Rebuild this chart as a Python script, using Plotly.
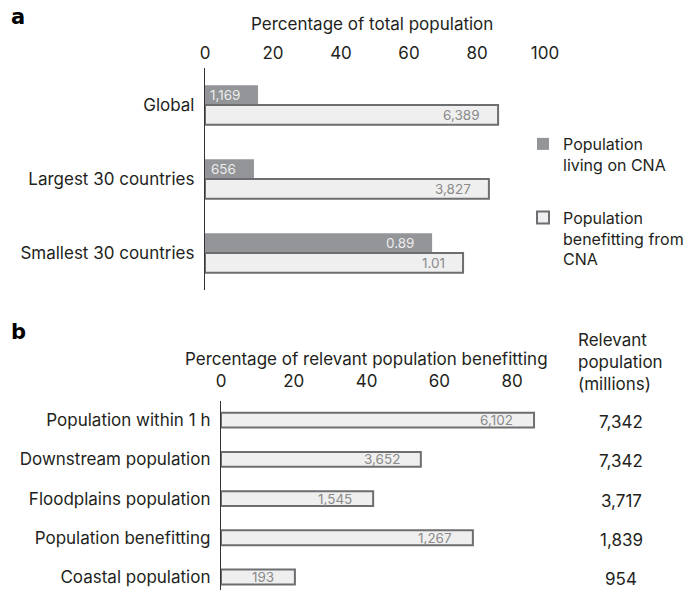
import plotly.graph_objects as go

# ---------------- data ----------------
cats_a = ["Global", "Largest 30 countries", "Smallest 30 countries"]
living_pct = [15.6, 14.4, 66.8]
benefit_pct = [86.2, 83.5, 75.9]
living_labels = ["1,169", "656", "0.89"]
benefit_labels = ["6,389", "3,827", "1.01"]

cats_b = ["Population within 1 h", "Downstream population", "Floodplains population",
          "Population benefitting", "Coastal population"]
b_pct = [86.0, 54.9, 41.8, 69.2, 20.3]
b_labels = ["6,102", "3,652", "1,545", "1,267", "193"]
relevant_pop = ["7,342", "7,342", "3,717", "1,839", "954"]

ticks_a = [0, 20, 40, 60, 80, 100]
ticks_b = [0, 20, 40, 60, 80]

# ---------------- style ----------------
W, H = 695, 590
FONT = "Inter"
FS = 17
TXT = "#231f20"
DARK = "#939598"
LIGHT = "#efefef"
EDGE = "#6d6e71"

def px(xp):
    return xp / W

def py(yp):
    return 1 - yp / H

fig = go.Figure()

fig.add_trace(go.Bar(
    y=cats_a, x=living_pct, orientation="h", name="Population<br>living on CNA",
    marker=dict(color=DARK, line=dict(width=0)), xaxis="x", yaxis="y",
    legendgroup="g1", hoverinfo="skip"))
fig.add_trace(go.Bar(
    y=cats_a, x=benefit_pct, orientation="h", name="Population<br>benefitting from<br>CNA",
    marker=dict(color=LIGHT, line=dict(width=2, color=EDGE)), xaxis="x", yaxis="y",
    legendgroup="g2", hoverinfo="skip"))
fig.add_trace(go.Bar(
    y=cats_b, x=b_pct, orientation="h", width=0.38, showlegend=False,
    marker=dict(color=LIGHT, line=dict(width=2, color=EDGE)), xaxis="x2", yaxis="y2",
    legendgroup="g3", hoverinfo="skip"))

ann = []
# value labels inside bars
for c, v, t in zip(cats_a, living_pct, living_labels):
    ann.append(dict(x=v, y=c, xref="x", yref="y", text=t, showarrow=False,
                    xanchor="right", xshift=-16, yshift=9.8,
                    font=dict(family=FONT, size=13.5, color="#ececec")))
for c, v, t in zip(cats_a, benefit_pct, benefit_labels):
    ann.append(dict(x=v, y=c, xref="x", yref="y", text=t, showarrow=False,
                    xanchor="right", xshift=-16, yshift=-9.8,
                    font=dict(family=FONT, size=13.5, color="#8a8a8a")))
for c, v, t in zip(cats_b, b_pct, b_labels):
    ann.append(dict(x=v, y=c, xref="x2", yref="y2", text=t, showarrow=False,
                    xanchor="right", xshift=-19,
                    font=dict(family=FONT, size=13.5, color="#8a8a8a")))
# relevant population column
for c, t in zip(cats_b, relevant_pop):
    ann.append(dict(x=px(621), y=c, xref="paper", yref="y2", text=t, showarrow=False,
                    xanchor="center", yshift=-2, font=dict(family=FONT, size=FS, color=TXT)))
ann.append(dict(x=px(576), y=py(362), xref="paper", yref="paper",
                text="Relevant<br>population<br>(millions)", showarrow=False,
                xanchor="left", yanchor="middle", align="left",
                font=dict(family=FONT, size=FS, color=TXT)))
# axis titles
ann.append(dict(x=px(372), y=py(24), xref="paper", yref="paper",
                text="Percentage of total population", showarrow=False,
                xanchor="center", yanchor="middle",
                font=dict(family=FONT, size=FS, color=TXT)))
ann.append(dict(x=px(366), y=py(359), xref="paper", yref="paper",
                text="Percentage of relevant population benefitting", showarrow=False,
                xanchor="center", yanchor="middle",
                font=dict(family=FONT, size=FS, color=TXT)))
# panel letters
ann.append(dict(x=px(9), y=py(17), xref="paper", yref="paper", text="<b>a</b>",
                showarrow=False, xanchor="left", yanchor="middle",
                font=dict(family="DejaVu Sans", size=21, color="#000")))
ann.append(dict(x=px(9), y=py(332), xref="paper", yref="paper", text="<b>b</b>",
                showarrow=False, xanchor="left", yanchor="middle",
                font=dict(family="DejaVu Sans", size=21, color="#000")))

axis_common = dict(showgrid=False, zeroline=False, ticks="", side="top", automargin=False,
                   tickfont=dict(family=FONT, size=FS, color=TXT), fixedrange=True)
yaxis_common = dict(type="category", showline=True, linecolor="#333", linewidth=1.3,
                    ticks="", showgrid=False, zeroline=False, automargin=False,
                    tickfont=dict(family=FONT, size=FS, color=TXT), ticklabelstandoff=6,
                    fixedrange=True)

fig.update_layout(
    width=W, height=H, margin=dict(l=0, r=0, t=0, b=0, autoexpand=False),
    paper_bgcolor="white", plot_bgcolor="white",
    barmode="group", bargap=0.468, bargroupgap=0,
    font=dict(family=FONT, size=FS, color=TXT),
    xaxis=dict(domain=[px(205), px(545)], range=[0, 100], tickvals=ticks_a,
               anchor="y", showline=False, ticklabelstandoff=5, **axis_common),
    yaxis=dict(domain=[py(290), py(68)], categoryarray=cats_a, range=[2.5, -0.5],
               anchor="x", **yaxis_common),
    xaxis2=dict(domain=[px(221), px(221 + 3.64 * 90)], range=[0, 90], tickvals=ticks_b,
                anchor="y2", showline=False, ticklabelstandoff=9, **axis_common),
    yaxis2=dict(domain=[0, py(400.5)], categoryarray=cats_b, range=[4.33, -0.5],
                anchor="x2", **yaxis_common),
    legend=dict(x=px(523), y=py(127), xanchor="left", yanchor="top",
                font=dict(family=FONT, size=16, color=TXT), tracegroupgap=29,
                valign="top", bgcolor="rgba(0,0,0,0)", traceorder="grouped"),
    annotations=ann,
)

fig.write_html("out.html", config={"displayModeBar": False},
               post_script="document.body.style.margin='0px';document.body.style.overflow='hidden';")
